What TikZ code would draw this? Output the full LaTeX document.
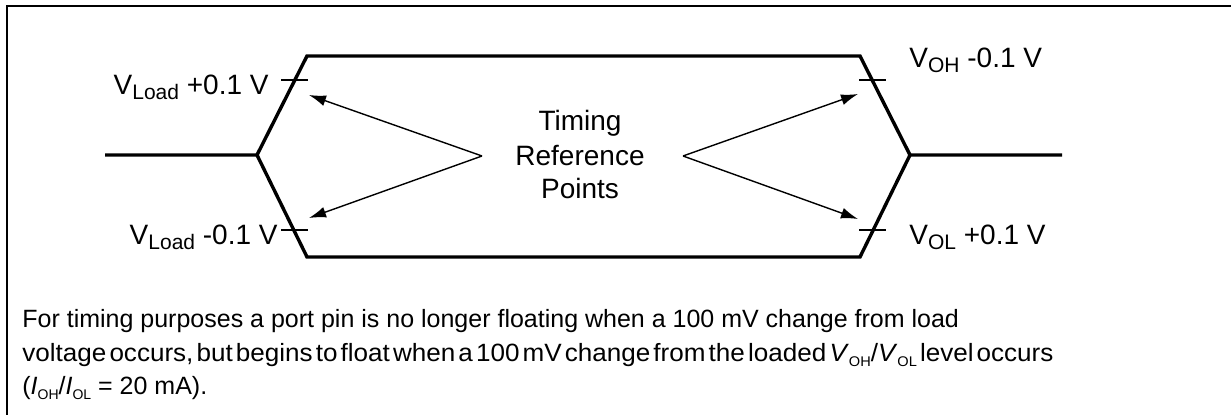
\documentclass[tikz,border=0pt]{standalone}
\usepackage{fontspec}
\setmainfont{Liberation Sans}
\usepackage{graphicx}
\usetikzlibrary{arrows.meta}
\newcommand{\lowsub}[2]{#1\raisebox{-2.5pt}{\fontsize{10.5}{10.5}\selectfont #2}}
\newcommand{\tinysub}[2]{\textit{#1}\raisebox{-2.5pt}{\fontsize{7}{7}\selectfont #2}}

\begin{document}
\begin{tikzpicture}[x=0.5pt, y=-0.5pt,
  wave/.style={line width=1.7pt, line join=miter},
  tickmark/.style={line width=0.7pt},
  arr/.style={-{Latex[length=8.5pt,width=5.5pt]}, line width=0.7pt},
  lbl/.style={font=\fontsize{14}{17}\selectfont, inner sep=0pt},
  note/.style={font=\fontsize{12.5}{15}\selectfont, inner sep=0pt, anchor=base west}
]
\useasboundingbox (0,0) rectangle (1231,415);
\draw[line width=1pt] (7,420) -- (7,6) -- (1236,6);

% waveform corners
\coordinate (lin) at (105,155);
\coordinate (lmid) at (257,155);
\coordinate (ltop) at (307,56);
\coordinate (lbot) at (307,257);
\coordinate (rtop) at (860,56);
\coordinate (rbot) at (860,257);
\coordinate (rmid) at (910,155);
\coordinate (rout) at (1062,155);

\draw[wave] (lin) -- (lmid) -- (ltop) -- (rtop) -- (rmid) -- (rout);
\draw[wave] (lmid) -- (lbot) -- (rbot) -- (rmid);

% level marks
\draw[tickmark] (281,80) -- (308,80);
\draw[tickmark] (281,230) -- (308,230);
\draw[tickmark] (859,80) -- (886,80);
\draw[tickmark] (859,230) -- (886,230);

\node[lbl, anchor=base east] (loadhi) at (269,95) {\lowsub{V}{Load} +0.1 V};
\node[lbl, anchor=base east] (loadlo) at (278,245) {\lowsub{V}{Load} -0.1 V};
\node[lbl, anchor=base west] (ohlbl) at (909,68) {\lowsub{V}{OH} -0.1 V};
\node[lbl, anchor=base west] (ollbl) at (909,245) {\lowsub{V}{OL} +0.1 V};

% reference points
\node[lbl, align=center] (trp) at (580,155) {Timing\\Reference\\Points};
\coordinate (lapex) at (482,156);
\coordinate (rapex) at (683,156);
\coordinate (lhi) at (309,95);
\coordinate (llo) at (309,218);
\coordinate (rhi) at (858,94);
\coordinate (rlo) at (858,219);

\draw[arr] (lapex) -- (lhi);
\draw[arr] (lapex) -- (llo);
\draw[arr] (rapex) -- (rhi);
\draw[arr] (rapex) -- (rlo);

% footnote
\node[note] (line1) at (22,328) {For timing purposes a port pin is no longer floating when a 100 mV change from load};
\node[note] (line2) at (22,362) {\resizebox{515.5pt}{\height}{\spaceskip=0.12em voltage occurs, but begins to float when a 100 mV change from the loaded \tinysub{V}{OH}/\tinysub{V}{OL} level occurs}};
\node[note] (line3) at (22,395) {(\tinysub{I}{OH}/\tinysub{I}{OL} = 20 mA).};
\end{tikzpicture}
\end{document}
